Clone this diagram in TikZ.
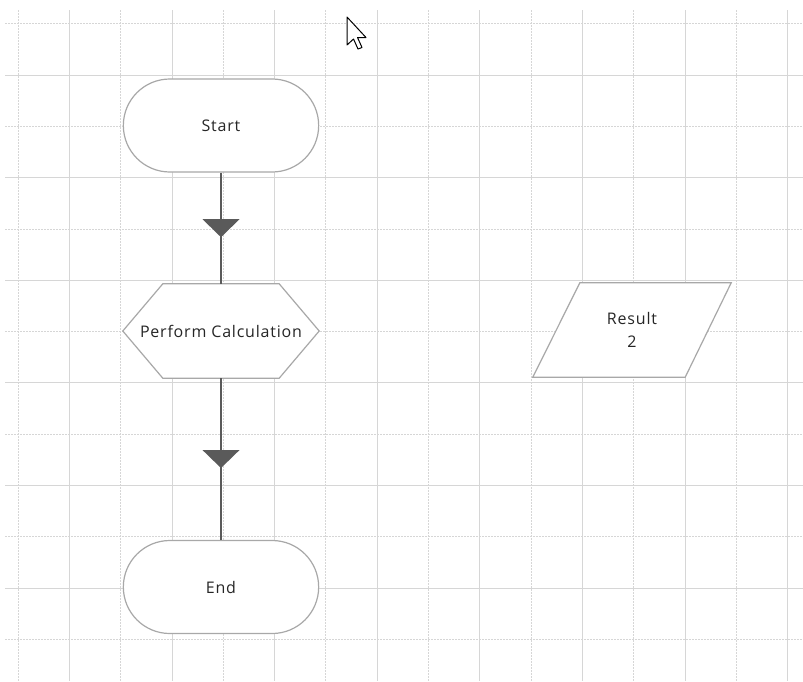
\documentclass[tikz,border=0pt]{standalone}
\usepackage{fontspec}
\setmainfont{Open Sans}[LetterSpace=5]
\usetikzlibrary{shapes.misc}
\definecolor{gridc}{HTML}{D6D6D6}
\definecolor{shapec}{HTML}{A8A8A8}
\definecolor{linec}{HTML}{5A5A5A}
\begin{document}
\begin{tikzpicture}[x=1pt,y=-1pt,
  lbl/.style={font=\fontsize{16}{23}\selectfont, text=black!85, align=center},
  terminal/.style={rounded rectangle, draw=shapec, line width=1.2pt, fill=white,
    minimum width=202pt, minimum height=93pt, lbl},
  boxnode/.style={rectangle, draw=none, minimum height=94pt},
  outline/.style={draw=shapec, line width=1.2pt, fill=white},
  flow/.style={draw=linec, line width=1.3pt},
  tri/.style={fill=linec}]
\useasboundingbox (0,0) rectangle (803,681);
\fill[white] (0,0) rectangle (803,681);
% grid
\foreach \k in {0,...,15}{
  \pgfmathsetmacro{\xx}{18+51.3*\k}
  \pgfmathtruncatemacro{\odd}{mod(\k,2)}
  \ifnum\odd=1
    \draw[gridc, line width=0.8pt] (\xx,10) -- (\xx,681);
  \else
    \draw[gridc, line width=0.8pt, dash pattern=on 2pt off 1pt] (\xx,10) -- (\xx,681);
  \fi
}
\foreach \k in {0,...,12}{
  \pgfmathsetmacro{\yy}{23.7+51.3*\k}
  \pgfmathtruncatemacro{\odd}{mod(\k,2)}
  \ifnum\odd=1
    \draw[gridc, line width=0.8pt] (5,\yy) -- (803,\yy);
  \else
    \draw[gridc, line width=0.8pt, dash pattern=on 2pt off 1pt] (5,\yy) -- (803,\yy);
  \fi
}
% nodes
\node[terminal] (s) at (221,125.5) {Start};
\node[boxnode, minimum width=196pt] (h) at (221,331) {};
\draw[outline] (h.west) -- ([xshift=40pt]h.north west) -- ([xshift=-40pt]h.north east) -- (h.east)
  -- ([xshift=-40pt]h.south east) -- ([xshift=40pt]h.south west) -- cycle;
\node[lbl] (ht) at (h.center) {Perform Calculation};
\node[terminal] (e) at (221,587) {End};
\node[boxnode, minimum width=198pt] (r) at (632,330) {};
\draw[outline] (r.south west) -- ([xshift=47pt]r.north west) -- (r.north east)
  -- ([xshift=-46pt]r.south east) -- cycle;
\node[lbl] (rt) at (r.center) {Result\\2};
% connectors
\draw[flow] (s.south) -- (h.north) coordinate[pos=0.5] (m1);
\fill[tri] ([xshift=-18.5pt,yshift=9pt]m1) -- ([xshift=18.5pt,yshift=9pt]m1) -- ([yshift=-9pt]m1) -- cycle;
\draw[flow] (h.south) -- (e.north) coordinate[pos=0.5] (m2);
\fill[tri] ([xshift=-18.5pt,yshift=9pt]m2) -- ([xshift=18.5pt,yshift=9pt]m2) -- ([yshift=-9pt]m2) -- cycle;
% mouse cursor
\draw[fill=white, draw=black, line width=1pt, line join=round]
  (347,17) -- (347,45) -- (353.5,39) -- (358,49) -- (362,47.5) -- (357.5,37.5) -- (366,37.5) -- cycle;
\end{tikzpicture}
\end{document}
